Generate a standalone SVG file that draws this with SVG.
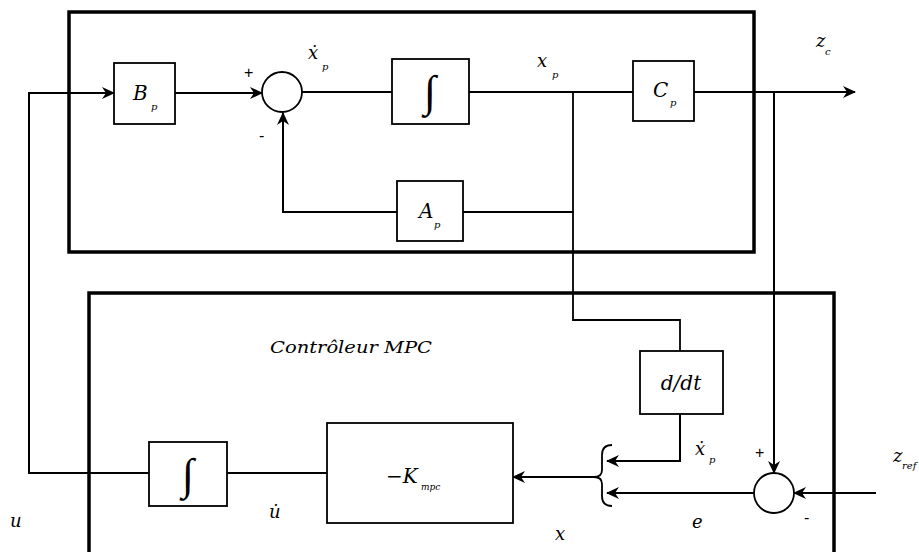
<svg xmlns="http://www.w3.org/2000/svg" width="919" height="552" viewBox="0 0 919 552">
<style>
.frame{fill:none;stroke:#000;stroke-width:3.5}
.blk{fill:#fff;stroke:#000;stroke-width:1.8}
.ln{fill:none;stroke:#000;stroke-width:1.8}
.ar{fill:none;stroke:#000;stroke-width:2;marker-end:url(#ah)}
.m{font-family:"DejaVu Serif","Liberation Serif",serif;font-style:italic;fill:#000}
.r{font-family:"Liberation Serif","DejaVu Serif",serif;fill:#000}
.s{font-family:"Liberation Sans",Arial,sans-serif;fill:#000;font-size:16px}
</style>
<defs>
<marker id="ah" markerUnits="userSpaceOnUse" markerWidth="14" markerHeight="12" refX="12" refY="6" orient="auto">
<path d="M0,0 L13,6 L0,12 L4,6 z" fill="#000"/>
</marker>
</defs>
<rect class="frame" x="69" y="12" width="685" height="240"/>
<rect class="frame" x="89" y="293" width="745" height="275"/>
<g id="connectors">
<path class="ar" d="M149,473 H29 V93 H114"/>
<path class="ar" d="M175,93 H262"/>
<path class="ln" d="M302,92 H392"/>
<path class="ln" d="M469,92 H633"/>
<path class="ar" d="M694,92 H855"/>
<path class="ln" d="M573,92 V212 H463"/>
<path class="ar" d="M397,212 H283 V113"/>
<path class="ln" d="M573,212 V320 H680 V351"/>
<path class="ar" d="M774,92 V473"/>
<path class="ar" d="M680,414 V461 H607"/>
<path class="ar" d="M754,493 H607"/>
<path class="ar" d="M876,493 H794"/>
<path class="ar" d="M596,477 H513"/>
<path class="ln" d="M327,473 H227"/>
<path class="ln" stroke-width="2" d="M612,445 Q602,445 602,455 L602,470 Q602,477 594,477 Q602,477 602,484 L602,496 Q602,506 612,506"/>
</g>
<g id="Bp">
<rect class="blk" x="114" y="63" width="61" height="61"/>
<text class="m" x="133" y="100" font-size="20">B</text>
<text class="m" x="151" y="110" font-size="10">p</text>
</g>
<g id="sum1">
<circle class="blk" cx="282" cy="92" r="20"/>
<text class="s" x="244" y="78">+</text>
<text class="s" x="259" y="141">-</text>
</g>
<g id="int1">
<rect class="blk" x="392" y="59" width="77" height="65"/>
<text class="r" x="430" y="106" font-size="44" text-anchor="middle">∫</text>
</g>
<g id="Ap">
<rect class="blk" x="397" y="181" width="66" height="60"/>
<text class="m" x="419" y="218" font-size="20">A</text>
<text class="m" x="434" y="228" font-size="10">p</text>
</g>
<g id="Cp">
<rect class="blk" x="633" y="61" width="61" height="60"/>
<text class="m" x="653" y="97" font-size="20">C</text>
<text class="m" x="670" y="106" font-size="10">p</text>
</g>
<g id="ddt">
<rect class="blk" x="640" y="351" width="83" height="63"/>
<text class="m" x="681" y="390" font-size="20" text-anchor="middle">d/dt</text>
</g>
<g id="Kmpc">
<rect class="blk" x="327" y="423" width="186" height="100"/>
<text class="m" x="386" y="483" font-size="20"><tspan font-style="normal">−</tspan>K</text>
<text class="m" x="421" y="490" font-size="9">mpc</text>
</g>
<g id="int2">
<rect class="blk" x="149" y="442" width="78" height="64"/>
<text class="r" x="188" y="489" font-size="44" text-anchor="middle">∫</text>
</g>
<g id="sum2">
<circle class="blk" cx="774" cy="493" r="20"/>
<text class="s" x="755" y="458">+</text>
<text class="s" x="804" y="523">-</text>
</g>
<g id="labels">
<text class="m" x="308" y="59" font-size="18">ẋ</text>
<text class="m" x="322" y="70" font-size="10">p</text>
<text class="m" x="537" y="67" font-size="18">x</text>
<text class="m" x="552" y="78" font-size="10">p</text>
<text class="m" x="816" y="47" font-size="18">z</text>
<text class="m" x="825" y="55" font-size="10">c</text>
<text class="m" x="270" y="353" font-size="17" textLength="162" lengthAdjust="spacingAndGlyphs">Contrôleur MPC</text>
<text class="m" x="695" y="455" font-size="18">ẋ</text>
<text class="m" x="709" y="463" font-size="10">p</text>
<text class="m" x="893" y="462" font-size="18">z</text>
<text class="m" x="902" y="469" font-size="10">ref</text>
<text class="m" x="692" y="528" font-size="18">e</text>
<text class="m" x="555" y="540" font-size="18">x</text>
<text class="m" x="10" y="527" font-size="18">u</text>
<text class="m" x="269" y="518" font-size="18">u̇</text>
</g>
</svg>
